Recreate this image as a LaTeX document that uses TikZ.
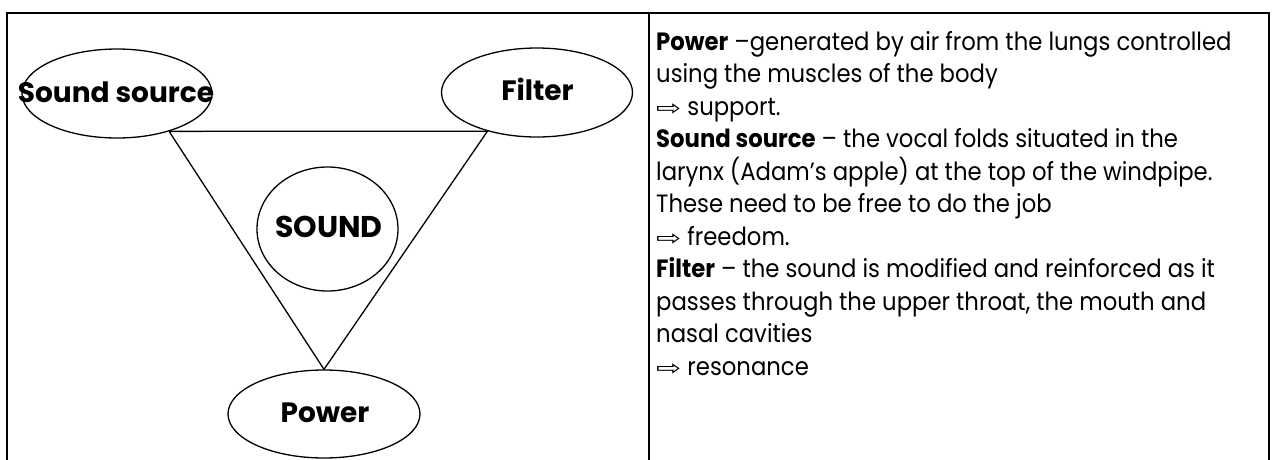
\documentclass[tikz,border=0pt]{standalone}
\usepackage{fontspec}
\usepackage{graphicx}
\setmainfont{Poppins}[FakeStretch=0.91]
\newfontfamily\lblfont{Poppins}
\newfontfamily\symfont{DejaVu Sans}
\usetikzlibrary{shapes.geometric}
\newcommand{\wharrow}{{\symfont\fontsize{30}{30}\selectfont\scalebox{1}[0.7]{⇨}}}
\begin{document}
\begin{tikzpicture}[x=1pt,y=-1pt,
  frame/.style={line width=2.2pt},
  shapeline/.style={line width=1.3pt, line join=round},
  oval/.style={ellipse, draw, line width=1.3pt, inner sep=0pt, fill=white},
  lbl/.style={font=\lblfont\bfseries\fontsize{28}{34}\selectfont, anchor=base, inner sep=0pt},
  txt/.style={font=\fontsize{25}{32}\selectfont, anchor=base west, inner sep=0pt}]
\useasboundingbox (0,0) rectangle (1274,459);
% frame
\coordinate (fbl) at (7,460);
\coordinate (ftl) at (7,13);
\coordinate (ftr) at (1269,13);
\coordinate (fbr) at (1269,460);
\coordinate (dtop) at (649,13);
\coordinate (dbot) at (649,460);
\draw[frame] (fbl) -- (ftl) -- (ftr) -- (fbr);
\draw[frame] (dtop) -- (dbot);
% ellipses
\node[oval, minimum width=190pt, minimum height=89pt] (ss) at (117,93.5) {};
\node[oval, minimum width=191pt, minimum height=89pt] (fi) at (537,92.5) {};
\node[oval, minimum width=141pt, minimum height=124pt] (snd) at (327.5,229) {};
\node[oval, minimum width=192pt, minimum height=88pt] (pw) at (324,414) {};
% triangle
\draw[shapeline] (ss.-36.3) -- (fi.218.8) -- (pw.north) -- cycle;
% labels
\node[lbl] (ssl) at (116,102) {Sound source};
\node[lbl] (fil) at (537.5,100) {Filter};
\node[lbl, font=\lblfont\bfseries\fontsize{30}{34}\selectfont] (sndl) at (329,237) {SOUND};
\node[lbl] (pwl) at (325,422) {Power};
% right text
\node[txt] (r1) at (656,50) {\textbf{Power} –generated by air from the lungs controlled};
\node[txt] (r2) at (656,82.5) {using the muscles of the body};
\node[txt] (r3) at (656,115) {\wharrow{} support.};
\node[txt] (r4) at (656,147.5) {\textbf{Sound source} – the vocal folds situated in the};
\node[txt] (r5) at (656,180) {larynx (Adam’s apple) at the top of the windpipe.};
\node[txt] (r6) at (656,212.5) {These need to be free to do the job};
\node[txt] (r7) at (656,245) {\wharrow{} freedom.};
\node[txt] (r8) at (656,277.5) {\textbf{Filter} – the sound is modified and reinforced as it};
\node[txt] (r9) at (656,310) {passes through the upper throat, the mouth and};
\node[txt] (r10) at (656,342.5) {nasal cavities};
\node[txt] (r11) at (656,375) {\wharrow{} resonance};
\end{tikzpicture}
\end{document}
